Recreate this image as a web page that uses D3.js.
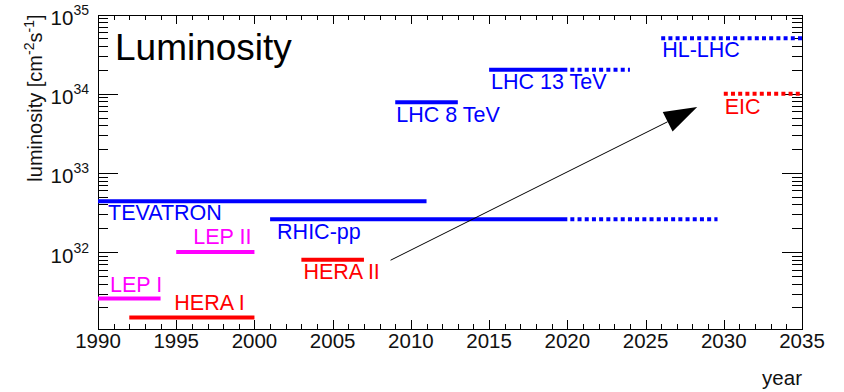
<!DOCTYPE html>
<html>
<head>
  <meta charset="utf-8">
  <title>Luminosity</title>
  <script src="https://d3js.org/d3.v7.min.js"></script>
  <style>
    body { margin: 0; background: #fff; }
    svg text { font-family: "Liberation Sans", Arial, Helvetica, sans-serif; }
    .frame { fill: none; stroke: #000; stroke-width: 1px; }
    .tick { stroke: #000; stroke-width: 1px; shape-rendering: crispEdges; }
  </style>
</head>
<body>
  <script>
    // accelerators
    var names  = ["LEP I", "LEP II", "HERA I", "HERA II", "TEVATRON", "RHIC-pp", "LHC 8 TeV", "LHC 13 TeV", "HL-LHC", "EIC"];
    var starts = [1990, 1995, 1992, 2003, 1990, 2001, 2009, 2015, 2026, 2030];
    var ends   = [1994, 2000, 2000, 2007, 2011, 2020, 2013, 2020, null, null];   // end of running period
    var plans  = [null, null, null, null, null, 2029.6, null, 2024, 2035, 2035]; // projected (dotted)
    var lumi   = [2.6e31, 1e32, 1.5e31, 8e31, 4.4e32, 2.6e32, 7.8e33, 2e34, 5e34, 1e34];

    var xTicks = [1990, 1995, 2000, 2005, 2010, 2015, 2020, 2025, 2030, 2035];
    var yTicks = [1e32, 1e33, 1e34, 1e35];

    var arrowFrom = [2008.7, 7.9e31];
    var arrowTo   = [2028.3, 6.8e33];

    // styling / label layout
    var colors  = ["#ff00ff", "#ff00ff", "#ff0000", "#ff0000", "#0000ff", "#0000ff", "#0000ff", "#0000ff", "#0000ff", "#ff0000"];
    var labelDx = [12, 17, 45, 2, 10, 7, 1, 2, 1, 1];
    var labelDy = [-6, -8, -7, 19, 19, 19.5, 19.5, 19, 18.5, 20];

    var W = 844, H = 392;
    var padL = 98, padR = 802, padT = 14.5, padB = 329;

    var x = d3.scaleLinear().domain([1990, 2035]).range([padL, padR]);
    var y = d3.scaleLog().domain([1.07e31, 1e35]).range([padB, padT]);

    var svg = d3.select("body").append("svg")
        .attr("width", W)
        .attr("height", H);

    // frame
    svg.append("rect")
        .attr("class", "frame")
        .attr("x", padL + 0.5).attr("y", Math.round(padT) + 0.5)
        .attr("width", padR - padL).attr("height", Math.round(padB) - Math.round(padT));

    // x ticks, bottom and top
    var years = d3.range(1990, 2036);
    var gx = svg.append("g");
    years.forEach(function(yr) {
      var len = yr % 5 === 0 ? 9 : 5;
      var px = Math.round(x(yr)) + 0.5;
      gx.append("line").attr("class", "tick")
          .attr("x1", px).attr("x2", px).attr("y1", padB).attr("y2", padB - len);
      gx.append("line").attr("class", "tick")
          .attr("x1", px).attr("x2", px).attr("y1", padT).attr("y2", padT + len);
    });
    gx.selectAll("text.xl")
        .data(xTicks)
      .enter().append("text")
        .attr("x", function(d) { return x(d); })
        .attr("y", 348)
        .attr("text-anchor", "middle")
        .attr("font-size", 20.5)
        .attr("fill", "#111")
        .text(function(d) { return d; });

    // y ticks, left and right
    var minors = [];
    [31, 32, 33, 34].forEach(function(e) {
      for (var m = 1; m <= 9; m++) {
        var v = m * Math.pow(10, e);
        if (v >= y.domain()[0] && v <= 1e35) minors.push(v);
      }
    });
    minors.push(1e35);
    var gy = svg.append("g");
    minors.forEach(function(v) {
      var major = Math.abs(Math.log10(v) - Math.round(Math.log10(v))) < 1e-9;
      var len = major ? 20 : 10;
      var py = Math.round(y(v)) + 0.5;
      gy.append("line").attr("class", "tick")
          .attr("x1", padL).attr("x2", padL + len).attr("y1", py).attr("y2", py);
      gy.append("line").attr("class", "tick")
          .attr("x1", padR).attr("x2", padR - len).attr("y1", py).attr("y2", py);
    });
    yTicks.forEach(function(v) {
      var t = gy.append("text")
          .attr("x", 89)
          .attr("y", y(v) + 10.5)
          .attr("text-anchor", "end")
          .attr("font-size", 20.5)
          .attr("fill", "#111");
      t.append("tspan").text("10");
      t.append("tspan").attr("font-size", 14).attr("dy", -10).text(Math.round(Math.log10(v)));
    });

    // axis titles
    var yt = svg.append("text")
        .attr("transform", "translate(42," + padT + ") rotate(-90)")
        .attr("text-anchor", "end")
        .attr("font-size", 20)
        .attr("fill", "#111");
    yt.append("tspan").text("luminosity [cm");
    yt.append("tspan").attr("font-size", 14).attr("dy", -8).text("-2");
    yt.append("tspan").attr("dy", 8).text("s");
    yt.append("tspan").attr("font-size", 14).attr("dy", -8).text("-1");
    yt.append("tspan").attr("dy", 8).text("]");

    svg.append("text")
        .attr("x", padR)
        .attr("y", 385)
        .attr("text-anchor", "end")
        .attr("font-size", 20.5)
        .attr("fill", "#111")
        .text("year");

    svg.append("text")
        .attr("x", 115)
        .attr("y", 60)
        .attr("font-size", 37)
        .attr("fill", "#000")
        .text("Luminosity");

    // accelerator bars
    var g = svg.append("g");
    names.forEach(function(n, i) {
      var yy = y(lumi[i]);
      if (ends[i] !== null) {
        g.append("line")
            .attr("x1", x(starts[i])).attr("x2", x(ends[i]))
            .attr("y1", yy).attr("y2", yy)
            .attr("stroke", colors[i])
            .attr("stroke-width", 4);
      }
      if (plans[i] !== null) {
        var from = ends[i] !== null ? ends[i] : starts[i];
        g.append("line")
            .attr("x1", x(from) + (ends[i] !== null ? 3 : 0)).attr("x2", x(plans[i]))
            .attr("y1", yy).attr("y2", yy)
            .attr("stroke", colors[i])
            .attr("stroke-width", 4)
            .attr("stroke-dasharray", "4,3.2");
      }
      g.append("text")
          .attr("x", x(starts[i]) + labelDx[i])
          .attr("y", yy + labelDy[i])
          .attr("font-size", 21.5)
          .attr("fill", colors[i])
          .text(n);
    });

    // arrow
    var ax0 = x(arrowFrom[0]), ay0 = y(arrowFrom[1]);
    var ax1 = x(arrowTo[0]), ay1 = y(arrowTo[1]);
    var ang = Math.atan2(ay1 - ay0, ax1 - ax0);
    var hl = 33, hw = 11;
    var bx = ax1 - hl * Math.cos(ang), by = ay1 - hl * Math.sin(ang);
    svg.append("line")
        .attr("x1", ax0).attr("y1", ay0)
        .attr("x2", bx).attr("y2", by)
        .attr("stroke", "#000")
        .attr("stroke-width", 1);
    svg.append("path")
        .attr("d", d3.line()([
          [ax1, ay1],
          [bx + hw * Math.sin(ang), by - hw * Math.cos(ang)],
          [bx - hw * Math.sin(ang), by + hw * Math.cos(ang)]
        ]) + "Z")
        .attr("fill", "#000");
  </script>
</body>
</html>
